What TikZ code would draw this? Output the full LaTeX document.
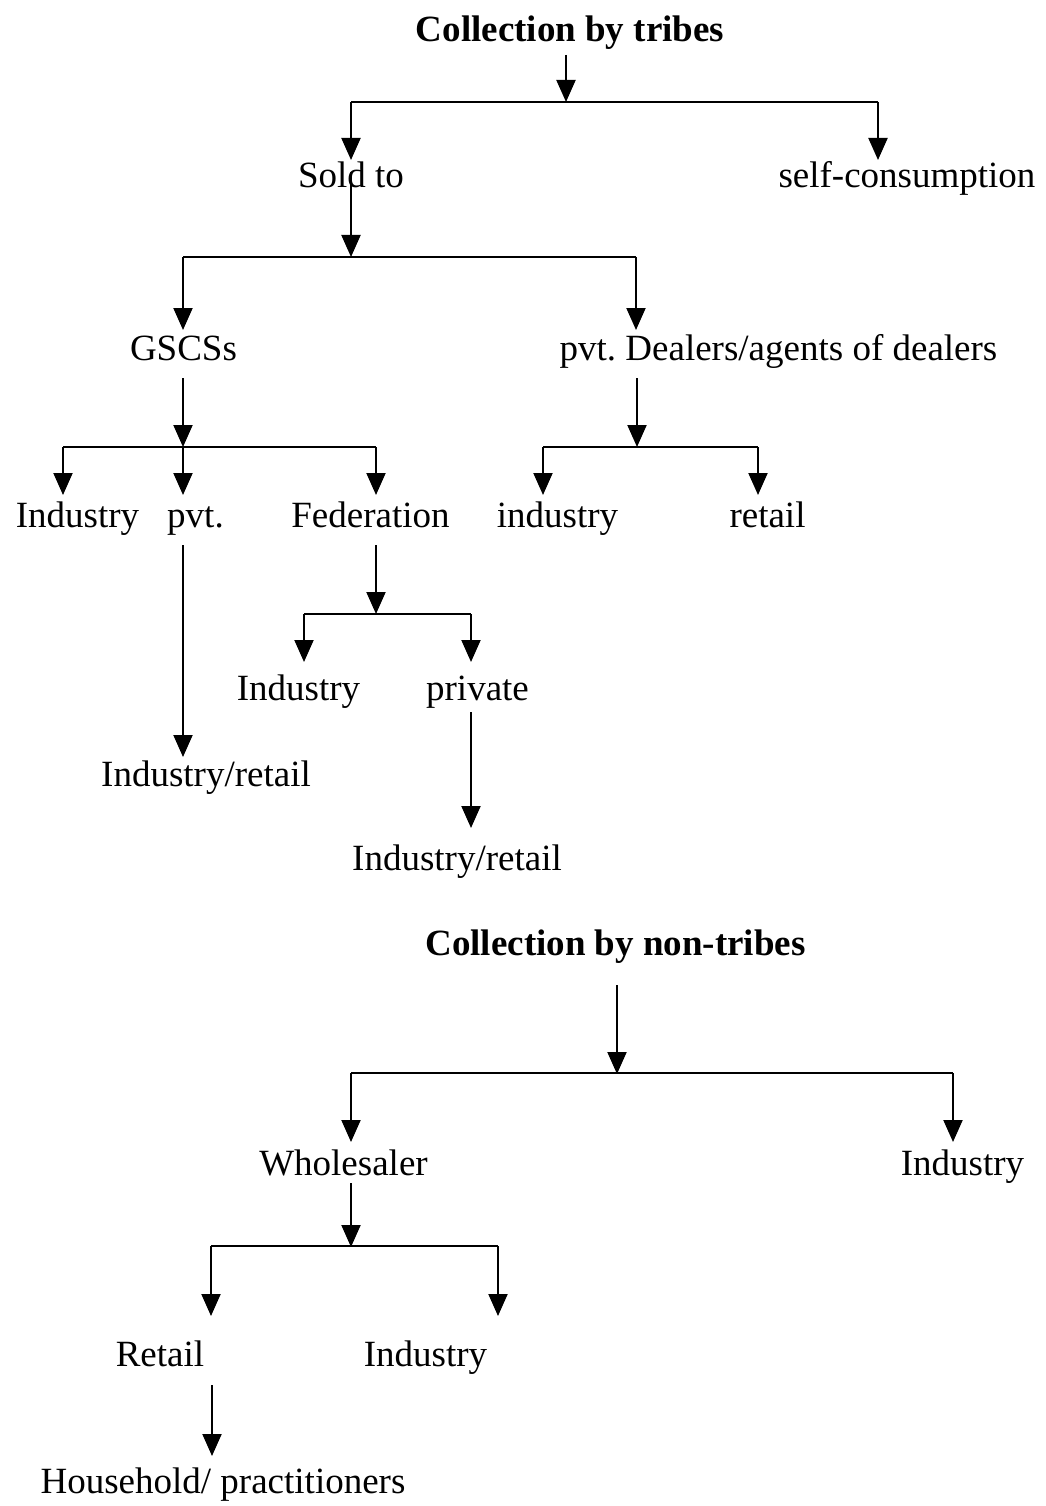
\documentclass[tikz,border=0pt]{standalone}
\usepackage{fontspec}
\setmainfont{Liberation Serif}
\usetikzlibrary{arrows.meta}
\frenchspacing
\begin{document}
\begin{tikzpicture}[x=1pt,y=-1pt,
  lbl/.style={anchor=base,inner sep=0pt,font=\fontsize{37}{44}\selectfont},
  hd/.style={lbl,font=\fontsize{37}{44}\selectfont\bfseries},
  link/.style={line width=2pt},
  arr/.style={link,-{Triangle[length=22pt,width=19pt]}}]
\useasboundingbox (0,0) rectangle (1045,1506);
% nodes
\node[hd]  (ct)    at (570,42)  {Collection by tribes};
\node[lbl] (sold)  at (351,188) {Sold to};
\node[lbl] (self)  at (907,188) {self-consumption};
\node[lbl] (gscs)  at (183.5,360) {GSCSs};
\node[lbl] (pvtd)  at (778.5,360) {pvt.\ Dealers/agents of dealers};
\node[lbl] (ind1)  at (77.5,527) {Industry};
\node[lbl] (pvt)   at (195.5,527) {pvt.};
\node[lbl] (fed)   at (370.5,527) {Federation};
\node[lbl] (ind2)  at (557.5,527) {industry};
\node[lbl] (ret1)  at (767.5,527) {retail};
\node[lbl] (ind3)  at (298.5,700) {Industry};
\node[lbl] (priv)  at (477.5,700) {private};
\node[lbl] (ir1)   at (206,786) {Industry/retail};
\node[lbl] (ir2)   at (457,870) {Industry/retail};
\node[hd]  (cnt)   at (615.5,955) {Collection by non-tribes};
\node[lbl] (whole) at (343.5,1175) {Wholesaler};
\node[lbl] (ind4)  at (962.5,1175) {Industry};
\node[lbl] (ret2)  at (160,1366) {Retail};
\node[lbl] (ind5)  at (425.5,1366) {Industry};
\node[lbl] (hh)    at (223,1493) {Household/ practitioners};
% coordinates
\coordinate (ctout) at (566,55);
\coordinate (j1) at (566,102);
\coordinate (j1l) at (351,102);
\coordinate (j1r) at (878,102);
\coordinate (soldin) at (351,160);
\coordinate (selfin) at (878,160);
\coordinate (soldout) at (351,172);
\coordinate (j2) at (351,257);
\coordinate (j2l) at (183,257);
\coordinate (j2r) at (636,257);
\coordinate (gscsin) at (183,330);
\coordinate (pvtdin) at (636,330);
\coordinate (gscsout) at (183,378);
\coordinate (j3) at (183,447);
\coordinate (j3l) at (63,447);
\coordinate (j3r) at (376,447);
\coordinate (ind1in) at (63,495);
\coordinate (pvtin) at (183,495);
\coordinate (fedin) at (376,495);
\coordinate (pvtdout) at (637,378);
\coordinate (j4) at (637,447);
\coordinate (j4l) at (543,447);
\coordinate (j4r) at (758,447);
\coordinate (ind2in) at (543,495);
\coordinate (ret1in) at (758,495);
\coordinate (pvtout) at (183,545);
\coordinate (ir1in) at (183,757);
\coordinate (fedout) at (376,545);
\coordinate (j5) at (376,614);
\coordinate (j5l) at (304,614);
\coordinate (j5r) at (471,614);
\coordinate (ind3in) at (304,662);
\coordinate (privin) at (471,662);
\coordinate (privout) at (471,712);
\coordinate (ir2in) at (471,828);
\coordinate (cntout) at (617,985);
\coordinate (j6) at (617,1074);
\coordinate (j6l) at (351,1073);
\coordinate (j6r) at (953,1073);
\coordinate (wholein) at (351,1142);
\coordinate (ind4in) at (953,1142);
\coordinate (wholeout) at (351,1183);
\coordinate (j7) at (351,1247);
\coordinate (j7l) at (211,1246);
\coordinate (j7r) at (498,1246);
\coordinate (ret2in) at (211,1316);
\coordinate (ind5in) at (498,1316);
\coordinate (ret2out) at (212,1385);
\coordinate (hhin) at (212,1456);
% connectors
\draw[arr] (ctout) -- (j1);
\draw[link] (j1l) -- (j1r);
\draw[arr] (j1l) -- (soldin);
\draw[arr] (j1r) -- (selfin);
\draw[arr] (soldout) -- (j2);
\draw[link] (j2l) -- (j2r);
\draw[arr] (j2l) -- (gscsin);
\draw[arr] (j2r) -- (pvtdin);
\draw[arr] (gscsout) -- (j3);
\draw[link] (j3l) -- (j3r);
\draw[arr] (j3l) -- (ind1in);
\draw[arr] (j3) -- (pvtin);
\draw[arr] (j3r) -- (fedin);
\draw[arr] (pvtdout) -- (j4);
\draw[link] (j4l) -- (j4r);
\draw[arr] (j4l) -- (ind2in);
\draw[arr] (j4r) -- (ret1in);
\draw[arr] (pvtout) -- (ir1in);
\draw[arr] (fedout) -- (j5);
\draw[link] (j5l) -- (j5r);
\draw[arr] (j5l) -- (ind3in);
\draw[arr] (j5r) -- (privin);
\draw[arr] (privout) -- (ir2in);
\draw[arr] (cntout) -- (j6);
\draw[link] (j6l) -- (j6r);
\draw[arr] (j6l) -- (wholein);
\draw[arr] (j6r) -- (ind4in);
\draw[arr] (wholeout) -- (j7);
\draw[link] (j7l) -- (j7r);
\draw[arr] (j7l) -- (ret2in);
\draw[arr] (j7r) -- (ind5in);
\draw[arr] (ret2out) -- (hhin);
\end{tikzpicture}
\end{document}
